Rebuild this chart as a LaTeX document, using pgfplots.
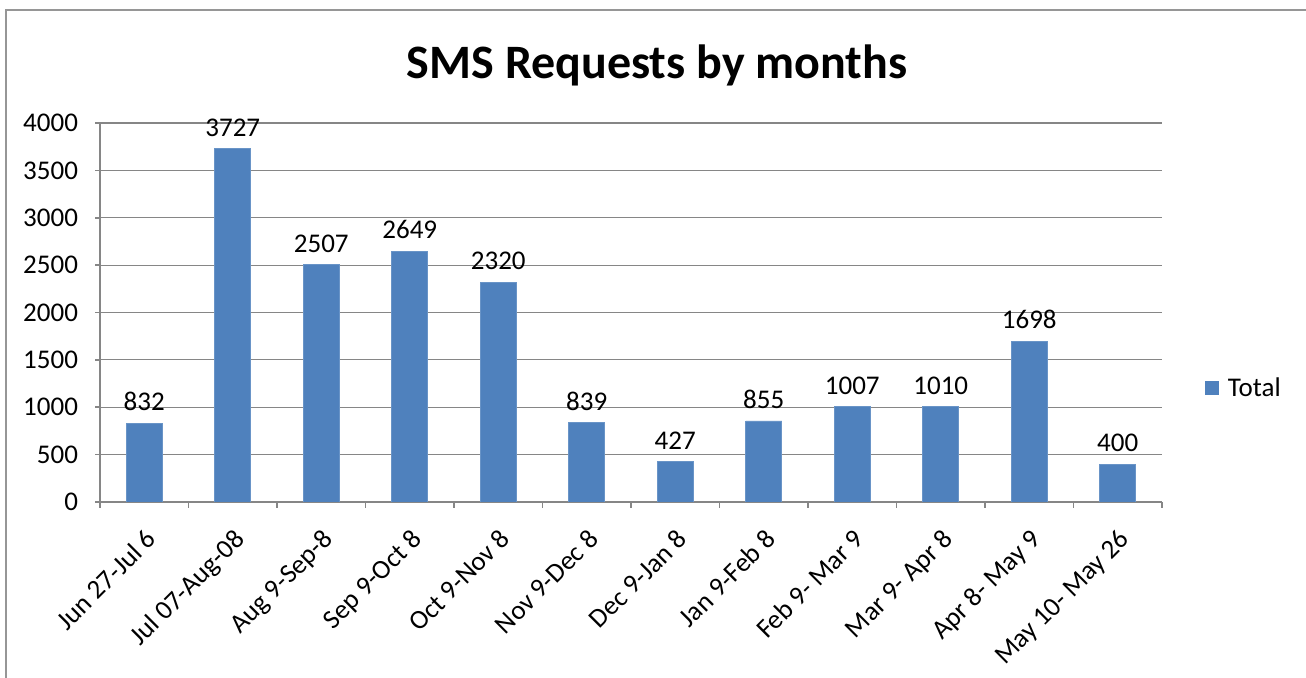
\documentclass[border=0pt]{standalone}
\usepackage{pgfplots}
\pgfplotsset{compat=1.18}
\usepackage{fontspec}
\setmainfont{Carlito}
\definecolor{barblue}{RGB}{79,129,189}
\definecolor{gridgray}{RGB}{134,134,134}
\definecolor{framegray}{RGB}{150,150,150}
\begin{document}
\begin{tikzpicture}[x=1pt,y=1pt]
\useasboundingbox (0,0) rectangle (653,339);
\draw[framegray, line width=1pt] (3,0) -- (3,334) -- (653,334);
\begin{axis}[
  at={(50pt,88pt)}, anchor=south west, scale only axis,
  width=531pt, height=189.5pt,
  ybar, bar width=18pt,
  ymin=0, ymax=4000, ytick={0,500,...,4000},
  xmin=-0.5, xmax=11.5, xtick={0,...,11},
  xticklabels={Jun 27-Jul 6,Jul 07-Aug-08,Aug 9-Sep-8,Sep 9-Oct 8,Oct 9-Nov 8,Nov 9-Dec 8,Dec 9-Jan 8,Jan 9-Feb 8,Feb 9- Mar 9,Mar 9- Apr 8,Apr 8- May 9,May 10- May 26},
  minor xtick={-0.5,0.5,...,11.5},
  major x tick style={draw=none},
  axis x line*=bottom, axis y line*=left,
  axis line style={gridgray, line width=0.8pt, -},
  ymajorgrids, grid style={gridgray, line width=0.6pt},
  tick style={gridgray, line width=0.8pt}, tick align=outside,
  major tick length=2.5pt, minor tick length=3pt,
  /pgf/number format/assume math mode=true,
  /pgf/number format/1000 sep={},
  tick label style={font=\fontsize{13.5}{16}\selectfont, black},
  yticklabel style={xshift=-5pt},
  xticklabel style={yshift=-5.5pt, rotate=45, anchor=north east},
  nodes near coords,
  nodes near coords style={font=\fontsize{13.5}{16}\selectfont, black, yshift=2.5pt},
  title={SMS Requests by months},
  title style={font=\fontsize{24}{28}\bfseries, at={(0.5245,1.087)}, anchor=base, yshift=0pt},
  legend style={draw=none, at={(1.04,0.30)}, anchor=west, font=\fontsize{13.5}{16}\selectfont, inner sep=0pt},
  legend image code/.code={\fill[barblue, draw=none] (0pt,-3.5pt) rectangle (7pt,3.5pt); \path[draw=none, fill=none] (0pt,0pt) -- (9.5pt,0pt);},
]
\addplot[fill=barblue, draw=barblue!85!white] coordinates {
(0,832) (1,3727) (2,2507) (3,2649) (4,2320) (5,839) (6,427) (7,855) (8,1007) (9,1010) (10,1698) (11,400)};
\addlegendentry{Total}
\end{axis}
\end{tikzpicture}
\end{document}
